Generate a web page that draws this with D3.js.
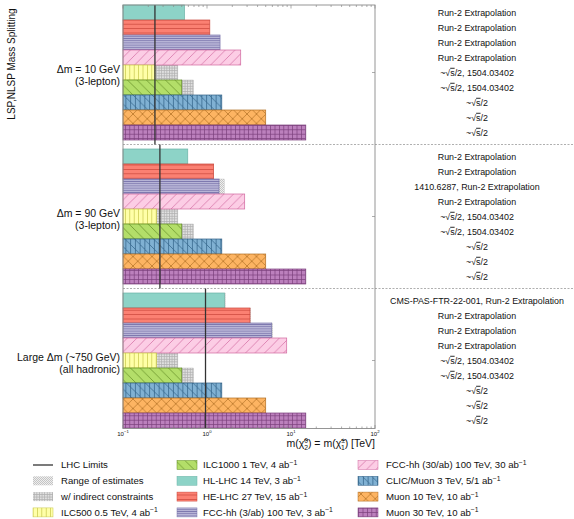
<!DOCTYPE html>
<html>
<head>
<meta charset="utf-8">
<script src="https://cdn.jsdelivr.net/npm/d3@7"></script>
<style>
  html, body { margin: 0; padding: 0; background: #fff; }
  svg text { font-family: "Liberation Sans", Arial, Helvetica, sans-serif; fill: #111; }
</style>
</head>
<body>
<svg id="chart" width="574" height="519"></svg>
<script>
// Higgsino-like mass reach by collider, three LSP/NLSP splitting scenarios
const sections = ["dm10", "dm90", "dmLarge"];
const sectionLabels = [
  ["Δm = 10 GeV", "(3-lepton)"],
  ["Δm = 90 GeV", "(3-lepton)"],
  ["Large Δm (~750 GeV)", "(all hadronic)"]
];
const categories = ["HL-LHC", "HE-LHC", "FCC-hh 3", "FCC-hh 30", "ILC500", "ILC1000", "CLIC/Muon 3", "Muon 10", "Muon 30"];

// reach in TeV, top to bottom within each section
const reach10    = [0.54, 1.08, 1.43, 2.52, 0.24, 0.50, 1.50, 5.0, 15.0];
const reach90    = [0.59, 1.20, 1.39, 2.81, 0.25, 0.50, 1.50, 5.0, 15.0];
const reachLarge = [1.61, 3.25, 5.89, 8.89, 0.25, 0.50, 1.50, 5.0, 15.0];

// upper end of the gray extensions (null = none); kind: "range" or "indirect"
const upper10    = [null, null, null, null, 0.45, 0.69, null, null, null];
const upper90    = [null, null, 1.61, null, 0.45, 0.69, null, null, null];
const upperLarge = [1.65, 3.32, 6.05, null, 0.45, 0.69, null, null, null];
const upperKind  = ["range", "range", "range", "range", "indirect", "indirect", "range", "range", "range"];

// current LHC limits per section
const lhcLimits = [0.24, 0.275, 0.96];

const notes10 = ["Run-2 Extrapolation", "Run-2 Extrapolation", "Run-2 Extrapolation", "Run-2 Extrapolation",
  "~√s/2, 1504.03402", "~√s/2, 1504.03402", "~√s/2", "~√s/2", "~√s/2"];
const notes90 = ["Run-2 Extrapolation", "Run-2 Extrapolation", "1410.6287, Run-2 Extrapolation", "Run-2 Extrapolation",
  "~√s/2, 1504.03402", "~√s/2, 1504.03402", "~√s/2", "~√s/2", "~√s/2"];
const notesLarge = ["CMS-PAS-FTR-22-001, Run-2 Extrapolation", "Run-2 Extrapolation", "Run-2 Extrapolation", "Run-2 Extrapolation",
  "~√s/2, 1504.03402", "~√s/2, 1504.03402", "~√s/2", "~√s/2", "~√s/2"];

const legendLabels = [
  "LHC Limits", "Range of estimates", "w/ indirect constraints", "ILC500 0.5 TeV, 4 ab^{−1}",
  "ILC1000 1 TeV, 4 ab^{−1}", "HL-LHC 14 TeV, 3 ab^{−1}", "HE-LHC 27 TeV, 15 ab^{−1}", "FCC-hh (3/ab) 100 TeV, 3 ab^{−1}",
  "FCC-hh (30/ab) 100 TeV, 30 ab^{−1}", "CLIC/Muon 3 TeV, 5/1 ab^{−1}", "Muon 10 TeV, 10 ab^{−1}", "Muon 30 TeV, 10 ab^{−1}"
];
const legendKeys = ["line", "range", "indirect", "ILC500", "ILC1000", "HL-LHC", "HE-LHC", "FCC-hh 3",
  "FCC-hh 30", "CLIC/Muon 3", "Muon 10", "Muon 30"];

const xTicks = [0.1, 1, 10, 100];
const xTickExp = ["−1", "0", "1", "2"];

const reaches = [reach10, reach90, reachLarge];
const uppers = [upper10, upper90, upperLarge];
const notes = [notes10, notes90, notesLarge];

// fill styles
const styles = {
  "HL-LHC":     { bg: "#8dd3c7", edge: "#6cb3a7", hatch: null },
  "HE-LHC":     { bg: "#fb8072", edge: "#c9453a", hatch: "h", s: 4.4 },
  "FCC-hh 3":   { bg: "#b7b4d6", edge: "#7b77ad", hatch: "h", s: 2.2 },
  "FCC-hh 30":  { bg: "#fccde5", edge: "#d0679f", hatch: "/", s: 9.5 },
  "ILC500":     { bg: "#ffffa8", edge: "#c6c64a", hatch: "v", s: 4.4 },
  "ILC1000":    { bg: "#b3de69", edge: "#5f8a22", hatch: "\\", s: 9.5 },
  "CLIC/Muon 3":{ bg: "#80b1d3", edge: "#2f5f85", hatch: "\\|", s: 9.5 },
  "Muon 10":    { bg: "#fdb462", edge: "#b06e24", hatch: "x", s: 9.5 },
  "Muon 30":    { bg: "#bc80bd", edge: "#7b3f7c", hatch: "+", s: 4.4 },
  "range":      { bg: "#eeeeee", edge: "#c4c4c4", hatch: "dots", s: 2 },
  "indirect":   { bg: "#e2e2e2", edge: "#b0b0b0", hatch: "grid", s: 2.6 }
};

const svg = d3.select("#chart");
const defs = svg.append("defs");

function patternId(key) { return "pat-" + key.replace(/[^a-zA-Z0-9]/g, "_"); }

Object.entries(styles).forEach(([key, st]) => {
  if (!st.hatch) return;
  const s = st.s;
  const p = defs.append("pattern").attr("id", patternId(key))
    .attr("patternUnits", "userSpaceOnUse").attr("width", s).attr("height", s);
  p.append("rect").attr("width", s).attr("height", s).attr("fill", st.bg);
  const ln = (x1, y1, x2, y2, w) => p.append("line").attr("x1", x1).attr("y1", y1).attr("x2", x2).attr("y2", y2)
    .attr("stroke", st.edge).attr("stroke-width", w || 0.7);
  if (st.hatch === "h") ln(0, s / 2, s, s / 2);
  if (st.hatch === "v") ln(s / 2, 0, s / 2, s);
  if (st.hatch === "+") { ln(0, s / 2, s, s / 2); ln(s / 2, 0, s / 2, s); }
  if (st.hatch === "/" || st.hatch === "x") { ln(0, s, s, 0); ln(-1, 1, 1, -1); ln(s - 1, s + 1, s + 1, s - 1); }
  if (st.hatch === "\\" || st.hatch === "x" || st.hatch === "\\|") { ln(0, 0, s, s); ln(-1, s - 1, 1, s + 1); ln(s - 1, -1, s + 1, 1); }
  if (st.hatch === "\\|") { ln(s * 0.25, 0, s * 0.25, s); ln(s * 0.75, 0, s * 0.75, s); }
  if (st.hatch === "dots") {
    p.append("rect").attr("x", 0).attr("y", 0).attr("width", 1).attr("height", 1).attr("fill", st.edge);
    p.append("rect").attr("x", 1).attr("y", 1).attr("width", 1).attr("height", 1).attr("fill", st.edge);
  }
  if (st.hatch === "grid") { ln(0, 0.5, s, 0.5, 0.8); ln(0.5, 0, 0.5, s, 0.8); }
});

function fillFor(key) { return styles[key].hatch ? `url(#${patternId(key)})` : styles[key].bg; }

// scales
const x = d3.scaleLog().domain([0.1, 100]).range([123, 375]);
const ySec = d3.scaleBand().domain(sections).range([5, 428]).paddingInner(0.0625);
const yRow = d3.scaleBand().domain(categories).range([0, ySec.bandwidth()]);

const plotTop = 5, plotBottom = 428.5, plotLeft = x(0.1), plotRight = x(100);

// section separators
[1, 2].forEach(i => {
  const yy = (ySec(sections[i - 1]) + ySec.bandwidth() + ySec(sections[i])) / 2;
  svg.append("line").attr("x1", plotLeft).attr("x2", 574).attr("y1", yy).attr("y2", yy)
    .attr("stroke", "#9a9a9a").attr("stroke-width", 0.8).attr("stroke-dasharray", "2,1.5");
});

// bars
sections.forEach((sec, si) => {
  const g = svg.append("g");
  const rows = categories.map((c, j) => ({ c, v: reaches[si][j], u: uppers[si][j], kind: upperKind[j] }));
  // gray extensions behind
  g.selectAll("rect.ext").data(rows.filter(d => d.u != null)).join("rect")
    .attr("x", d => x(d.v)).attr("y", d => ySec(sec) + yRow(d.c))
    .attr("width", d => x(d.u) - x(d.v)).attr("height", yRow.bandwidth())
    .attr("fill", d => fillFor(d.kind)).attr("stroke", d => styles[d.kind].edge).attr("stroke-width", 0.4);
  g.selectAll("rect.bar").data(rows).join("rect")
    .attr("x", x(0.1)).attr("y", d => ySec(sec) + yRow(d.c))
    .attr("width", d => x(d.v) - x(0.1)).attr("height", yRow.bandwidth())
    .attr("fill", d => fillFor(d.c)).attr("stroke", d => styles[d.c].edge).attr("stroke-width", 0.7);
});

// LHC limit lines, spanning each section between separators
sections.forEach((sec, si) => {
  const y0 = si === 0 ? plotTop : ySec(sec) - 4.5;
  const y1 = si === 2 ? plotBottom : ySec(sec) + ySec.bandwidth() + 4.5;
  svg.append("line").attr("x1", x(lhcLimits[si])).attr("x2", x(lhcLimits[si]))
    .attr("y1", y0).attr("y2", y1).attr("stroke", "#333").attr("stroke-width", 1.3);
});

// frame
svg.append("rect").attr("x", plotLeft).attr("y", plotTop).attr("width", plotRight - plotLeft)
  .attr("height", plotBottom - plotTop).attr("fill", "none").attr("stroke", "#8a8a8a").attr("stroke-width", 0.9);

// log ticks on top and bottom, pointing inward
const minor = [];
for (let e = -1; e < 2; e++) for (let m = 2; m <= 9; m++) minor.push(m * Math.pow(10, e));
const tg = svg.append("g").attr("stroke", "#8a8a8a").attr("stroke-width", 0.7);
minor.forEach(v => {
  tg.append("line").attr("x1", x(v)).attr("x2", x(v)).attr("y1", plotTop).attr("y2", plotTop + 2);
  tg.append("line").attr("x1", x(v)).attr("x2", x(v)).attr("y1", plotBottom).attr("y2", plotBottom - 2);
});
xTicks.forEach(v => {
  tg.append("line").attr("x1", x(v)).attr("x2", x(v)).attr("y1", plotTop).attr("y2", plotTop + 3.5);
  tg.append("line").attr("x1", x(v)).attr("x2", x(v)).attr("y1", plotBottom).attr("y2", plotBottom - 3.5);
});
// section-centre ticks on the right frame
sections.forEach(sec => {
  const yc = ySec(sec) + ySec.bandwidth() / 2;
  tg.append("line").attr("x1", plotRight).attr("x2", plotRight - 3).attr("y1", yc).attr("y2", yc);
});

// x tick labels
xTicks.forEach((v, i) => {
  const t = svg.append("text").attr("x", x(v)).attr("y", 435.5).attr("text-anchor", "middle")
    .attr("font-size", 6);
  t.append("tspan").text("10");
  t.append("tspan").attr("font-size", 4.2).attr("dy", -2.4).text(xTickExp[i]);
});

// x axis title
{
  const t = svg.append("text").attr("x", 375).attr("y", 447).attr("text-anchor", "end").attr("font-size", 10.5);
  t.append("tspan").text("m(χ̃");
  t.append("tspan").attr("font-size", 6.8).attr("dy", -4).text("0");
  t.append("tspan").attr("font-size", 6.8).attr("dx", -3.8).attr("dy", 7).text("2");
  t.append("tspan").attr("dy", -3).text(") = m(χ̃");
  t.append("tspan").attr("font-size", 6.8).attr("dy", -4).text("±");
  t.append("tspan").attr("font-size", 6.8).attr("dx", -4).attr("dy", 7).text("1");
  t.append("tspan").attr("dy", -3).text(") [TeV]");
}

// y axis title
svg.append("text").attr("transform", "translate(15,64) rotate(-90)").attr("text-anchor", "middle")
  .attr("font-size", 10).text("LSP,NLSP Mass Splitting");

// section labels
sections.forEach((sec, si) => {
  const yc = ySec(sec) + ySec.bandwidth() / 2;
  const t = svg.append("text").attr("x", 120).attr("text-anchor", "end").attr("font-size", 10.5);
  t.append("tspan").attr("x", 120).attr("y", yc).text(sectionLabels[si][0]);
  t.append("tspan").attr("x", 120).attr("y", yc + 12).text(sectionLabels[si][1]);
});

// per-row reference notes
function addRichText(sel, str) {
  const parts = str.split("√s");
  parts.forEach((p, i) => {
    if (p) sel.append("tspan").text(p);
    if (i < parts.length - 1) {
      sel.append("tspan").text("√");
      sel.append("tspan").style("text-decoration", "overline").text("s");
    }
  });
}
sections.forEach((sec, si) => {
  categories.forEach((c, j) => {
    const yc = ySec(sec) + yRow(c) + yRow.bandwidth() / 2;
    const t = svg.append("text").attr("x", 477).attr("y", yc + 3.3).attr("text-anchor", "middle").attr("font-size", 8.9);
    addRichText(t, notes[si][j]);
  });
});

// legend
function addSup(sel, str) {
  const m = str.match(/^(.*)\^\{(.*)\}$/);
  if (!m) { sel.text(str); return; }
  sel.append("tspan").text(m[1]);
  sel.append("tspan").attr("font-size", 6.8).attr("dy", -3.5).text(m[2]);
}
const legCols = [{ px: 33, tx: 61 }, { px: 177, tx: 203 }, { px: 358, tx: 386 }];
const legRowY = [465, 480.8, 496.6, 512.4];
legendKeys.forEach((k, i) => {
  const col = legCols[Math.floor(i / 4)], yc = legRowY[i % 4];
  if (k === "line") {
    svg.append("line").attr("x1", col.px).attr("x2", col.px + 20).attr("y1", yc).attr("y2", yc)
      .attr("stroke", "#333").attr("stroke-width", 1.3);
  } else {
    svg.append("rect").attr("x", col.px).attr("y", yc - 4.5).attr("width", 20).attr("height", 9)
      .attr("fill", fillFor(k)).attr("stroke", k === "range" || k === "indirect" ? "none" : styles[k].edge)
      .attr("stroke-width", 0.5);
  }
  const t = svg.append("text").attr("x", col.tx).attr("y", yc + 3.4).attr("font-size", 9.6);
  addSup(t, legendLabels[i]);
});
</script>
</body>
</html>
